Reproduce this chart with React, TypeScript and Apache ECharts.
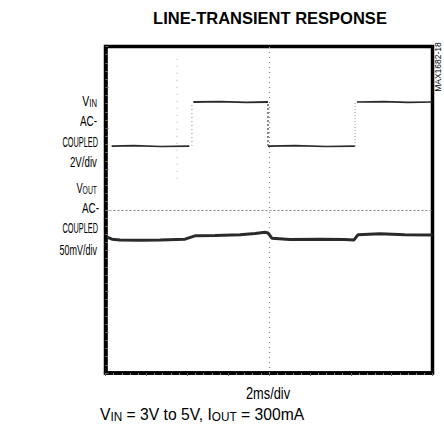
import React, { useEffect, useRef } from 'react';
import * as echarts from 'echarts';

// time in ms (2 ms/div), vertical position in screen divisions (0 = bottom, 8 = top)
const vinLowA: number[][] = [[0.3, 5.56], [1.4, 5.57], [2.7, 5.55], [4.1, 5.56]];
const vinHighA: number[][] = [[4.3, 6.64], [5.6, 6.65], [6.9, 6.63], [7.95, 6.64]];
const vinLowB: number[][] = [[7.95, 5.56], [9.3, 5.57], [10.8, 5.55], [12.2, 5.56]];
const vinHighB: number[][] = [[12.3, 6.64], [13.6, 6.65], [14.8, 6.63], [16, 6.64]];
const vinEdgeUp1: number[][] = [[4.23, 5.56], [4.23, 6.64]];
const vinEdgeDown: number[][] = [[7.95, 5.56], [7.95, 6.64]];
const vinEdgeUp2: number[][] = [[12.21, 5.56], [12.21, 6.64]];
const preTriggerMarks: number[][] = [[3.5, 7.7], [3.5, 4.7]];
const voutTrace: number[][] = [
  [0.07, 3.33], [0.32, 3.28], [0.71, 3.26], [1.69, 3.25], [2.67, 3.26], [3.89, 3.28],
  [4.38, 3.36], [5.36, 3.37], [6.58, 3.39], [7.32, 3.42], [7.8, 3.45], [7.95, 3.43],
  [8.15, 3.3], [9.03, 3.27], [10.5, 3.28], [11.7, 3.27], [12.16, 3.26], [12.36, 3.39],
  [13.43, 3.41], [14.65, 3.39], [16, 3.38],
];
const centerTime = [8];
const centerLevel = [4];

const titleText = 'LINE-TRANSIENT RESPONSE';
const vinLabelLines = ['AC-', 'COUPLED', '2V/div'];
const voutLabelLines = ['AC-', 'COUPLED', '50mV/div'];
const timeLabel = '2ms/div';
const partLabel = 'MAX1682-18';

const FONT = '"Liberation Sans", Arial, Helvetica, sans-serif';

function traceSeries(data: number[][], width: number, color: string, type: any = 'solid') {
  return {
    type: 'line',
    data,
    showSymbol: false,
    symbol: 'none',
    silent: true,
    lineStyle: { width, color, type },
  };
}

function leftText(text: string, x: number, y: number, scaleX: number) {
  return {
    type: 'text',
    x,
    y,
    scaleX,
    style: {
      text,
      align: 'right',
      verticalAlign: 'middle',
      fontFamily: FONT,
      fontSize: 15,
      fill: '#000',
    },
  };
}

function subText(text: string, x: number, y: number, scaleX: number, align: string, size = 15) {
  return {
    type: 'text',
    x,
    y,
    scaleX,
    style: {
      text,
      align,
      verticalAlign: 'middle',
      fill: '#000',
      rich: {
        v: { fontFamily: FONT, fontSize: size, lineHeight: size + 3, verticalAlign: 'bottom', fill: '#000' },
        s: { fontFamily: FONT, fontSize: size - 4, lineHeight: size - 5, verticalAlign: 'bottom', fill: '#000' },
      },
    },
  };
}

export default function App() {
  const ref = useRef<HTMLDivElement>(null);
  useEffect(() => {
    if (!ref.current) return;
    const chart = echarts.init(ref.current, undefined, { renderer: 'svg' });
    const trace = '#2a2a2a';
    const faint = '#8a8a8a';
    chart.setOption({
      animation: false,
      backgroundColor: '#fff',
      grid: {
        left: 105.5,
        top: 46.5,
        width: 327,
        height: 326.5,
        show: true,
        borderColor: '#000',
        borderWidth: 3.5,
        backgroundColor: 'transparent',
      },
      xAxis: {
        type: 'value',
        min: 0,
        max: 16,
        interval: 2,
        position: 'top',
        axisLine: { show: true, lineStyle: { color: '#000', width: 3.5 } },
        axisTick: { show: true, inside: true, length: 3, lineStyle: { color: '#666', width: 1 } },
        minorTick: { show: true, splitNumber: 5, length: 2, lineStyle: { color: '#777', width: 1 } },
        axisLabel: { show: false },
        splitLine: { show: false },
      },
      yAxis: {
        type: 'value',
        min: 0,
        max: 8,
        interval: 1,
        axisLine: { show: true, lineStyle: { color: '#000', width: 3.5 } },
        axisTick: { show: true, inside: true, length: 3, lineStyle: { color: '#666', width: 1 } },
        minorTick: { show: true, splitNumber: 5, length: 2, lineStyle: { color: '#777', width: 1 } },
        axisLabel: { show: false },
        splitLine: { show: false },
      },
      series: [
        {
          ...traceSeries(vinLowA, 1.6, trace),
          markLine: {
            silent: true,
            symbol: 'none',
            label: { show: false },
            data: [
              { xAxis: centerTime[0], lineStyle: { color: faint, width: 1.2, type: [1, 4] } },
              { yAxis: centerLevel[0], lineStyle: { color: faint, width: 1.2, type: [2, 2] } },
            ],
          },
        },
        traceSeries(vinHighA, 1.8, trace),
        traceSeries(vinLowB, 1.6, trace),
        traceSeries(vinHighB, 1.6, trace),
        traceSeries(vinEdgeUp1, 1, faint, [1, 3]),
        traceSeries(vinEdgeDown, 1.5, '#666', [2, 2]),
        traceSeries(vinEdgeUp2, 1, faint, [1, 2]),
        traceSeries(preTriggerMarks, 1, '#aaa', [1, 6]),
        traceSeries(voutTrace, 3, trace),
      ],
      graphic: [
        {
          type: 'text',
          x: 270,
          y: 18,
          style: {
            text: titleText,
            align: 'center',
            verticalAlign: 'middle',
            fontFamily: FONT,
            fontWeight: 'bold',
            fontSize: 16.5,
            fill: '#000',
          },
        },
        subText('{v|V}{s|IN}', 97, 99, 0.7, 'right'),
        leftText(vinLabelLines[0], 97, 121, 0.66),
        leftText(vinLabelLines[1], 98, 142, 0.49),
        leftText(vinLabelLines[2], 97, 162, 0.65),
        subText('{v|V}{s|OUT}', 97, 187, 0.62, 'right'),
        leftText(voutLabelLines[0], 99, 208, 0.66),
        leftText(voutLabelLines[1], 98, 228, 0.49),
        leftText(voutLabelLines[2], 97, 250, 0.6),
        {
          type: 'text',
          x: 268,
          y: 393,
          scaleX: 0.8,
          style: {
            text: timeLabel,
            align: 'center',
            verticalAlign: 'middle',
            fontFamily: FONT,
            fontSize: 16,
            fill: '#000',
          },
        },
        subText('{v|V}{s|IN}{v| = 3V to 5V, I}{s|OUT}{v| = 300mA}', 100, 413, 0.98, 'left', 16),
        {
          type: 'text',
          x: 438,
          y: 67,
          rotation: Math.PI / 2,
          style: {
            text: partLabel,
            align: 'center',
            verticalAlign: 'middle',
            fontFamily: FONT,
            fontSize: 8.5,
            fill: '#000',
          },
        },
      ],
    });
    return () => chart.dispose();
  }, []);
  return (
    <div
      ref={ref}
      style={{ position: 'absolute', left: 0, top: 0, width: 444, height: 433 }}
    />
  );
}
